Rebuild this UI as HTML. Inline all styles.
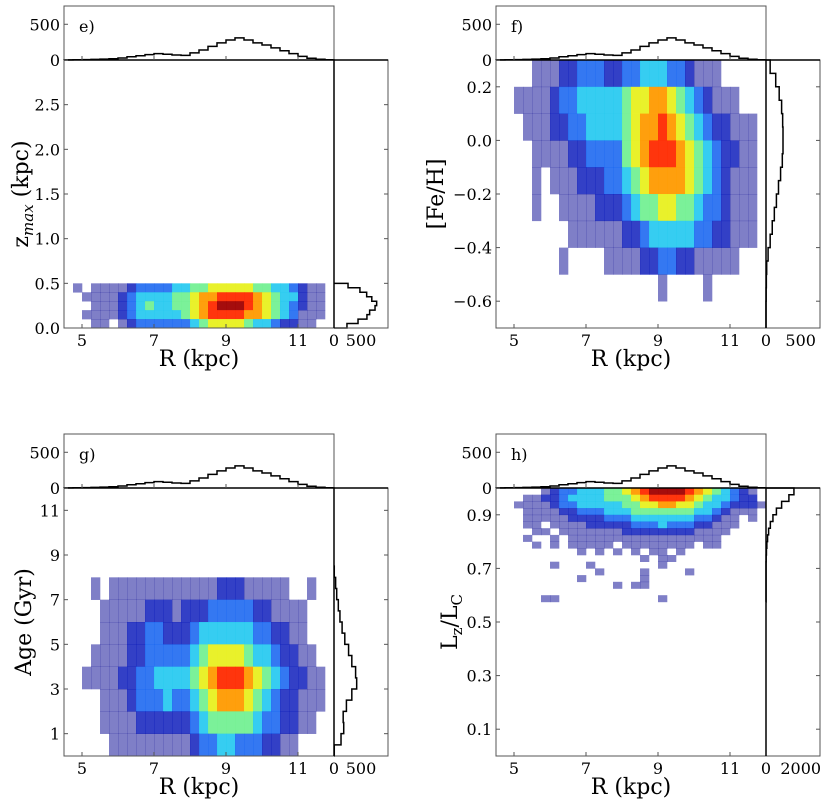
<!DOCTYPE html>
<html><head><meta charset="utf-8">
<style>
html,body{margin:0;padding:0;background:#fff;}
svg{display:block;font-family:"DejaVu Serif","Liberation Serif",serif;}
</style></head>
<body>
<svg id="fig" width="831" height="810" viewBox="0 0 831 810" xmlns="http://www.w3.org/2000/svg"></svg>
<script>
// ---- shared data ----
const rEdges = [4.5,4.75,5,5.25,5.5,5.75,6,6.25,6.5,6.75,7,7.25,7.5,7.75,8,8.25,8.5,8.75,9,9.25,9.5,9.75,10,10.25,10.5,10.75,11,11.25,11.5,11.75,12];
const rTicks = [5,7,9,11];
const rHist = [2,3,5,8,12,18,28,45,60,75,90,80,70,65,100,140,190,240,280,310,280,240,210,170,130,90,50,25,10,3];

// panel e: zmax
const eRows = [0,0.1,0.2,0.3,0.4,0.5];
const eGrid = [
[0,1,0,1,1,1,1,2,3,3,3,3,4,4,5,5,6,6,6,6,6,5,5,4,4,3,2,1,1,0],
[0,0,1,1,1,1,2,3,4,4,4,4,5,5,6,7,7,8,8,8,8,7,6,5,4,4,2,1,1,0],
[0,0,0,1,1,1,2,3,4,5,4,4,5,5,6,7,8,9,9,9,8,7,6,5,4,3,2,1,1,0],
[0,0,1,1,1,1,2,3,4,4,4,4,4,5,6,7,8,8,8,8,7,7,6,5,4,3,1,1,1,0],
[0,0,0,1,1,0,1,2,3,3,3,3,3,3,4,5,6,6,6,6,5,4,4,3,2,2,1,1,0,0]];
const eTicks = [0,0.5,1.0,1.5,2.0,2.5];
const eTickLabels = ["0.0","0.5","1.0","1.5","2.0","2.5"];
const eSideEdges = [0,0.05,0.1,0.15,0.2,0.25,0.3,0.35,0.4,0.45,0.5];
const eSideHist = [240,445,610,660,760,790,700,605,480,260];

// panel f: [Fe/H]
const fRows = [-0.7,-0.6,-0.5,-0.4,-0.3,-0.2,-0.1,0.0,0.1,0.2,0.3];
const fGrid = [
[0,0,0,0,1,1,1,2,2,3,3,3,2,2,3,3,4,4,4,3,3,2,1,1,1,0,0,0,0,0],
[0,0,1,1,1,1,2,3,3,4,4,4,4,4,5,6,6,7,7,6,5,4,3,2,1,1,1,0,0,0],
[0,0,0,1,1,1,2,2,3,3,4,4,4,4,5,6,7,7,8,7,6,5,4,3,2,2,1,1,1,0],
[0,0,0,0,1,1,1,1,2,2,3,3,3,3,5,6,7,8,8,8,7,6,5,4,3,2,2,1,1,0],
[0,0,0,0,1,0,1,1,1,2,2,2,3,3,4,5,6,7,7,7,7,6,5,4,3,2,1,1,1,0],
[0,0,0,0,1,0,0,1,1,1,1,2,2,2,3,4,5,5,6,6,5,5,4,3,3,2,1,1,1,0],
[0,0,0,0,0,0,0,0,1,1,1,1,1,1,2,2,3,4,4,4,4,4,3,3,2,2,1,1,1,0],
[0,0,0,0,0,0,0,1,0,0,0,0,1,1,1,1,2,2,3,3,2,2,1,1,1,1,1,0,0,0],
[0,0,0,0,0,0,0,0,0,0,0,0,0,0,0,0,0,0,1,0,0,0,0,1,0,0,0,0,0,0],
[0,0,0,0,0,0,0,0,0,0,0,0,0,0,0,0,0,0,0,0,0,0,0,0,0,0,0,0,0,0]];
const fTicks = [-0.6,-0.4,-0.2,0.0,0.2];
const fTickLabels = ["\u22120.6","\u22120.4","\u22120.2","0.0","0.2"];
const fSideEdges = [-0.7,-0.65,-0.6,-0.55,-0.5,-0.45,-0.4,-0.35,-0.3,-0.25,-0.2,-0.15,-0.1,-0.05,0,0.05,0.1,0.15,0.2,0.25,0.3];
const fSideHist = [0,0,2,5,10,30,60,90,120,150,180,210,235,245,245,240,225,190,140,60];

// panel g: Age
const gRows = [0,1,2,3,4,5,6,7,8];
const gGrid = [
[0,0,0,1,0,1,1,1,1,1,1,1,1,1,1,1,1,2,2,2,1,1,1,1,1,0,0,1,0,0],
[0,0,0,0,1,1,1,1,1,2,2,2,1,2,2,2,3,3,3,3,3,2,2,1,1,1,1,0,0,0],
[0,0,0,0,1,1,1,2,2,3,3,2,2,2,3,4,4,4,4,4,4,3,3,2,2,1,1,0,0,0],
[0,0,0,1,1,1,1,2,2,3,3,3,3,3,4,5,6,6,6,6,5,4,4,3,2,2,1,1,0,0],
[0,0,1,1,1,1,2,2,3,3,4,4,4,4,5,6,7,8,8,8,7,6,5,4,3,2,2,1,1,0],
[0,0,0,0,1,1,1,2,3,3,3,4,3,3,4,5,6,7,7,7,6,5,4,3,2,2,1,1,1,0],
[0,0,0,0,1,1,1,1,2,2,2,2,2,2,3,4,5,5,5,5,5,4,3,3,2,2,1,1,0,0],
[0,0,0,0,0,1,1,1,1,1,1,1,1,1,2,3,3,4,4,3,3,3,2,2,1,1,0,0,0,0]];
const gTicks = [1,3,5,7,9,11];
const gTickLabels = ["1","3","5","7","9","11"];
const gSideEdges = [0,0.5,1,1.5,2,2.5,3,3.5,4,4.5,5,5.5,6,6.5,7,7.5,8,8.5];
const gSideHist = [5,130,180,170,230,330,420,400,330,270,200,150,110,80,50,30,5];

// panel h: Lz/Lc
const hRows = [0.575,0.6,0.625,0.65,0.675,0.7,0.725,0.75,0.775,0.8,0.825,0.85,0.875,0.9,0.925,0.95,0.975,1.0];
const hGrid = [
[0,0,0,0,0,1,2,3,3,4,4,4,5,5,6,7,8,9,9,9,9,8,7,6,5,4,3,2,1,0],
[0,0,0,1,1,2,2,3,4,4,4,4,5,5,5,6,7,8,8,8,8,7,6,5,4,4,3,2,2,0],
[0,0,1,1,1,1,2,3,3,4,4,4,4,4,5,5,6,6,7,7,6,6,5,4,4,3,2,2,2,1],
[0,0,0,1,1,1,1,2,2,3,3,3,4,4,4,5,5,5,5,5,5,5,4,4,3,2,1,1,1,0],
[0,0,0,1,1,1,1,1,2,2,2,2,3,3,3,4,4,4,4,4,4,4,3,3,2,1,1,0,1,0],
[0,0,0,1,1,0,1,1,1,1,2,2,2,2,2,3,3,3,4,3,3,3,2,2,1,1,1,0,0,0],
[0,0,0,0,1,1,0,1,1,1,1,1,1,1,2,2,2,2,2,2,2,2,1,1,1,1,0,0,0,0],
[0,0,0,1,0,0,1,0,1,1,1,1,1,1,1,1,1,1,1,1,1,1,1,1,1,0,0,0,0,0],
[0,0,0,0,1,0,1,0,1,1,1,1,1,0,1,1,1,1,1,1,1,1,0,1,1,0,0,0,0,0],
[0,0,0,0,0,0,0,0,0,1,0,1,0,1,0,1,0,1,1,0,1,0,0,0,0,0,0,0,0,0],
[0,0,0,0,0,0,0,0,0,0,0,0,0,0,0,0,1,0,1,1,0,0,0,0,0,0,0,0,0,0],
[0,0,0,0,0,0,1,0,0,0,1,0,0,0,0,0,0,0,1,0,0,0,0,0,0,0,0,0,0,0],
[0,0,0,0,0,0,0,0,0,0,0,1,0,0,0,0,1,0,0,0,0,1,0,0,0,0,0,0,0,0],
[0,0,0,0,0,0,0,0,0,1,0,0,0,0,0,0,1,0,0,0,0,0,0,0,0,0,0,0,0,0],
[0,0,0,0,0,0,0,0,0,0,0,0,0,1,0,1,1,0,0,0,0,0,0,0,0,0,0,0,0,0],
[0,0,0,0,0,0,0,0,0,0,0,0,0,0,0,0,0,0,0,0,0,0,0,0,0,0,0,0,0,0],
[0,0,0,0,0,1,1,0,0,0,0,0,0,0,0,0,0,0,1,0,0,0,0,0,0,0,0,0,0,0]];
const hTicks = [0.1,0.3,0.5,0.7,0.9];
const hTickLabels = ["0.1","0.3","0.5","0.7","0.9"];
const hSideEdges = [0.575,0.6,0.625,0.65,0.675,0.7,0.725,0.75,0.775,0.8,0.825,0.85,0.875,0.9,0.925,0.95,0.975,1.0];
const hSideHist = [3,3,3,3,3,3,10,25,50,90,150,250,400,600,900,1320,1610];

// ---- rendering ----
const NS = "http://www.w3.org/2000/svg";
const svg = document.getElementById('fig');
const jet = ['#ffffff','#00008f','#0010b8','#1060f0','#20c8f0','#70f090','#e8f020','#ff9a00','#ff2a00','#a00000'];
const jetOp = [0,0.5,0.8,0.85,0.9,0.92,0.95,0.95,0.95,0.95];
function mk(tag, attrs, parent){
  const e = document.createElementNS(NS, tag);
  for (const k in attrs) e.setAttribute(k, attrs[k]);
  (parent||svg).appendChild(e);
  return e;
}
const PW = 270, PH = 268, HS = 54, RMIN = 4.5, RMAX = 12, TOPMAX = 756;
const AX = '#555';

function panel(P){
  const g = mk('g', {});
  
  
  const X = v => P.x0 + (v - RMIN) / (RMAX - RMIN) * PW;
  const Y = v => P.y0 + PH - (v - P.ymin) / (P.ymax - P.ymin) * PH;
  const TY = c => P.y0 - c / TOPMAX * HS;
  const RX = c => P.x0 + PW + c / P.rmax * HS;

  const hm = mk('g', {}, g);
  
  
  const nr = P.grid.length;
  P.grid.forEach((row, i) => {
    const lo = P.rows[nr - 1 - i], hi = P.rows[nr - i];
    row.forEach((v, j) => {
      if (!v) return;
      const x1 = X(rEdges[j]), x2 = X(rEdges[j+1]);
      const c = mk('rect', {x: x1, y: Y(hi), width: x2 - x1 + 0.3, height: Y(lo) - Y(hi) + 0.3, fill: jet[v], 'fill-opacity': jetOp[v]}, hm);
      
      
    });
  });

  let d = 'M' + X(rEdges[0]) + ' ' + TY(0);
  rHist.forEach((c, j) => { d += ' L' + X(rEdges[j]) + ' ' + TY(c) + ' L' + X(rEdges[j+1]) + ' ' + TY(c); });
  d += ' L' + X(rEdges[rEdges.length-1]) + ' ' + TY(0);
  const th = mk('path', {d: d, fill: 'none', stroke: '#000', 'stroke-width': 1.5}, g);
  
  

  let s = 'M' + RX(0) + ' ' + Y(P.sideEdges[0]);
  P.sideHist.forEach((c, j) => { s += ' L' + RX(c) + ' ' + Y(P.sideEdges[j]) + ' L' + RX(c) + ' ' + Y(P.sideEdges[j+1]); });
  s += ' L' + RX(0) + ' ' + Y(P.sideEdges[P.sideEdges.length-1]);
  const sh = mk('path', {d: s, fill: 'none', stroke: '#000', 'stroke-width': 1.5}, g);
  
  

  const fr = {fill: 'none', stroke: AX, 'stroke-width': 1};
  const f1 = mk('rect', Object.assign({x: P.x0, y: P.y0, width: PW, height: PH}, fr), g);
  
  
  const f2 = mk('rect', Object.assign({x: P.x0, y: P.y0 - HS, width: PW, height: HS}, fr), g);
  
  
  const f3 = mk('rect', Object.assign({x: P.x0 + PW, y: P.y0, width: HS, height: PH}, fr), g);
  
  
  mk('line', {x1: P.x0, x2: P.x0 + PW + HS, y1: P.y0, y2: P.y0, stroke: '#000', 'stroke-width': 1.5}, g);
  mk('line', {x1: P.x0 + PW, x2: P.x0 + PW, y1: P.y0, y2: P.y0 + PH, stroke: '#000', 'stroke-width': 1.5}, g);

  const lab = (x, y, t, anchor, size, name) => {
    const e = mk('text', {x: x, y: y, 'text-anchor': anchor, 'font-size': size, fill: '#000'}, g);
    e.textContent = t;
    
    
    return e;
  };
  rTicks.forEach(t => {
    const x = X(t);
    mk('line', {x1: x, x2: x, y1: P.y0 + PH, y2: P.y0 + PH - 4, stroke: AX}, g);
    mk('line', {x1: x, x2: x, y1: P.y0, y2: P.y0 - 4, stroke: AX}, g);
    lab(x, P.y0 + PH + 18, String(t), 'middle', 16, 'x-tick-label');
  });
  P.yticks.forEach((t, i) => {
    const y = Y(t);
    mk('line', {x1: P.x0, x2: P.x0 + 4, y1: y, y2: y, stroke: AX}, g);
    mk('line', {x1: P.x0 + PW + HS, x2: P.x0 + PW + HS - 4, y1: y, y2: y, stroke: AX}, g);
    lab(P.x0 - 4, y + 6, P.ytickLabels[i], 'end', 16, 'y-tick-label');
  });
  [0, 500].forEach(t => {
    mk('line', {x1: P.x0, x2: P.x0 + 4, y1: TY(t), y2: TY(t), stroke: AX}, g);
    lab(P.x0 - 4, TY(t) + 6, String(t), 'end', 16, 'top-hist-tick-label');
  });
  lab(RX(0), P.y0 + PH + 18, '0', 'middle', 16, 'side-hist-tick-label');
  lab(RX(P.rtick), P.y0 + PH + 18, String(P.rtick), 'middle', 16, 'side-hist-tick-label');
  lab(P.x0 + 15, P.y0 - 28, P.id + ')', 'start', 16, 'panel-label');
  lab(P.x0 + PW / 2, P.y0 + PH + 38, 'R (kpc)', 'middle', 22, 'x-axis-title');
  const yt = mk('text', {x: 0, y: 0, 'text-anchor': 'middle', 'font-size': 22, fill: '#000',
    transform: 'translate(' + P.ytx + ',' + (P.y0 + PH / 2) + ') rotate(-90)'}, g);
  
  
  yt.innerHTML = P.ytitle;
}

panel({id: 'e', x0: 64, y0: 60, ymin: 0, ymax: 3, grid: eGrid, rows: eRows, yticks: eTicks, ytickLabels: eTickLabels,
  sideEdges: eSideEdges, sideHist: eSideHist, rmax: 1000, rtick: 500, ytx: 28,
  ytitle: 'z<tspan font-size="15" font-style="italic" dy="5">max</tspan><tspan dy="-5"> (kpc)</tspan>'});
panel({id: 'f', x0: 496, y0: 60, ymin: -0.7, ymax: 0.3, grid: fGrid, rows: fRows, yticks: fTicks, ytickLabels: fTickLabels,
  sideEdges: fSideEdges, sideHist: fSideHist, rmax: 778, rtick: 500, ytx: 443, ytitle: '[Fe/H]'});
panel({id: 'g', x0: 64, y0: 488, ymin: 0, ymax: 12, grid: gGrid, rows: gRows, yticks: gTicks, ytickLabels: gTickLabels,
  sideEdges: gSideEdges, sideHist: gSideHist, rmax: 1000, rtick: 500, ytx: 31, ytitle: 'Age (Gyr)'});
panel({id: 'h', x0: 496, y0: 488, ymin: 0, ymax: 1, grid: hGrid, rows: hRows, yticks: hTicks, ytickLabels: hTickLabels,
  sideEdges: hSideEdges, sideHist: hSideHist, rmax: 3112, rtick: 2000, ytx: 457,
  ytitle: 'L<tspan font-size="15" dy="5">z</tspan><tspan dy="-5">/L</tspan><tspan font-size="15" dy="5">C</tspan>'});
</script>
</body></html>
